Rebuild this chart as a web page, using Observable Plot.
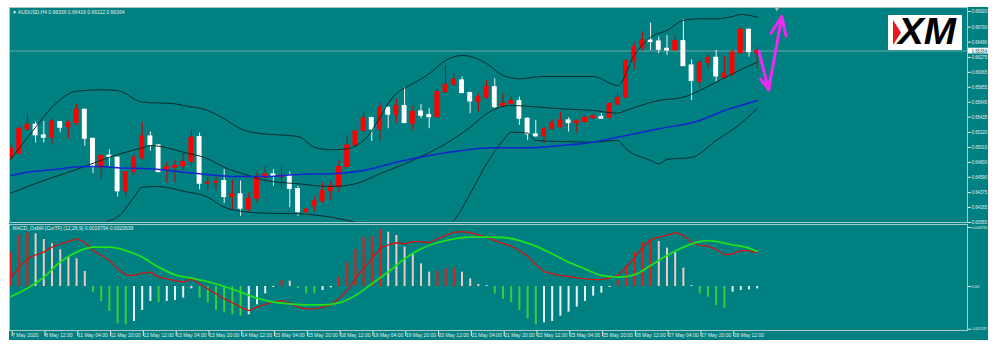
<!DOCTYPE html>
<html>
<head>
<meta charset="utf-8">
<script src="https://cdn.jsdelivr.net/npm/d3@7"></script>
<script src="https://cdn.jsdelivr.net/npm/@observablehq/plot@0.6"></script>
<style>
html,body{margin:0;padding:0;background:#fff}
body{width:1000px;height:351px;overflow:hidden;position:relative;font-family:"Liberation Sans",Arial,sans-serif}
#wrap{position:absolute;left:9px;top:7px;width:979px;height:333px;background:#008080}
#main,#macd{position:absolute;left:0}
#main{top:0}
#macd{top:216px}
.lbl{position:absolute;font-size:5px;line-height:5px;color:#e4eeee;white-space:nowrap}
#logo{position:absolute;left:879px;top:8px;overflow:visible}
</style>
</head>
<body>
<div id="wrap">
  <div id="main"></div>
  <div id="macd"></div>
  <div class="lbl" id="hdr" style="left:3px;top:3px"></div>
  <div class="lbl" id="mlbl" style="left:3.5px;top:219px"></div>
  <svg id="logo" width="74" height="35">
    <rect width="74" height="35" fill="#ffffff"/>
    <polygon points="5,5 13,17.5 5,30" fill="#e8191f"/>
    <text x="10" y="29" font-size="30" font-weight="900" font-style="italic" font-family="Liberation Sans, Arial, sans-serif" textLength="58" lengthAdjust="spacingAndGlyphs" transform="translate(0,-6) scale(1,1.2)" fill="#000">XM</text>
  </svg>
</div>
<script>
// ---------- DATA ----------
const symbol = "AUDUSD,H4";
const timeLabels = ["7 May 2020","8 May 12:00","11 May 04:00","11 May 20:00","12 May 12:00","13 May 04:00","13 May 20:00","14 May 12:00","15 May 04:00","15 May 20:00","18 May 12:00","19 May 04:00","19 May 20:00","20 May 12:00","21 May 04:00","21 May 20:00","22 May 12:00","25 May 04:00","25 May 20:00","26 May 12:00","27 May 04:00","27 May 20:00","28 May 12:00"];
const barsPerLabel = 4;

const open = [0.64874,0.64921,0.65263,0.65329,0.65179,0.65146,0.65366,0.65295,0.65352,0.65539,
0.65132,0.64725,0.64894,0.64865,0.64393,0.64664,0.64865,0.65165,0.65039,0.64688,
0.64725,0.64744,0.64805,0.65156,0.64500,0.64510,0.64538,0.64313,0.64351,0.64140,
0.64290,0.64585,0.64631,0.64594,0.64613,0.64426,0.64103,0.64182,0.64257,0.64397,
0.64454,0.64734,0.65039,0.65240,0.65422,0.65263,0.65567,0.65469,0.65591,0.65343,
0.65516,0.65464,0.65436,0.65787,0.65890,0.65951,0.65773,0.65647,0.65717,0.65857,
0.65595,0.65623,0.65661,0.65413,0.65193,0.65165,0.65272,0.65295,0.65390,0.65352,
0.65366,0.65422,0.65436,0.65422,0.65609,0.65708,0.66223,0.66410,0.66513,0.66499,
0.66396,0.66373,0.66504,0.66162,0.65928,0.66195,0.66270,0.65989,0.66045,0.66335,
0.66663,0.66336];
const high = [0.65037,0.65295,0.65483,0.65366,0.65376,0.65413,0.65370,0.65390,0.65614,0.65553,
0.65135,0.64898,0.64978,0.64875,0.64670,0.64908,0.65366,0.65226,0.65045,0.64805,
0.64828,0.64921,0.65249,0.65212,0.64585,0.64594,0.64697,0.64547,0.64538,0.64369,
0.64650,0.64734,0.64697,0.64734,0.64664,0.64463,0.64150,0.64313,0.64510,0.64524,
0.64828,0.65179,0.65249,0.65507,0.65436,0.65633,0.65577,0.65694,0.65848,0.65586,
0.65614,0.65553,0.65834,0.66162,0.66035,0.65998,0.65787,0.65764,0.65951,0.65974,
0.65764,0.65717,0.65717,0.65427,0.65390,0.65295,0.65399,0.65507,0.65427,0.65399,
0.65445,0.65483,0.65483,0.65647,0.65764,0.66241,0.66490,0.66630,0.66757,0.66560,
0.66583,0.66583,0.66803,0.66241,0.66241,0.66316,0.66373,0.66288,0.66373,0.66677,
0.66677,0.66419];
const low = [0.64827,0.64912,0.65226,0.65071,0.65071,0.65048,0.65216,0.65132,0.65319,0.65025,
0.64641,0.64571,0.64744,0.64313,0.64323,0.64617,0.64828,0.64959,0.64650,0.64510,
0.64510,0.64688,0.64744,0.64416,0.64397,0.64407,0.64220,0.64126,0.64042,0.64103,
0.64229,0.64524,0.64463,0.64430,0.64163,0.64042,0.64079,0.64103,0.64220,0.64266,
0.64369,0.64725,0.65006,0.65193,0.65095,0.65109,0.65272,0.65352,0.65343,0.65249,
0.65413,0.65272,0.65427,0.65750,0.65867,0.65764,0.65483,0.65507,0.65679,0.65553,
0.65577,0.65609,0.65319,0.65109,0.65156,0.65062,0.65249,0.65282,0.65226,0.65212,
0.65352,0.65399,0.65408,0.65390,0.65600,0.65694,0.66092,0.66363,0.66373,0.66326,
0.66302,0.66373,0.66148,0.65670,0.65848,0.66115,0.65928,0.65975,0.66007,0.66326,
0.66279,0.66112];
const close = [0.64990,0.65272,0.65329,0.65179,0.65146,0.65376,0.65287,0.65352,0.65539,0.65132,
0.64734,0.64889,0.64875,0.64393,0.64664,0.64865,0.65165,0.65039,0.64664,0.64734,
0.64748,0.64805,0.65146,0.64500,0.64514,0.64533,0.64313,0.64351,0.64149,0.64290,
0.64594,0.64631,0.64608,0.64613,0.64426,0.64103,0.64140,0.64252,0.64397,0.64463,
0.64734,0.65039,0.65235,0.65422,0.65263,0.65567,0.65469,0.65591,0.65352,0.65507,
0.65455,0.65436,0.65787,0.65890,0.65961,0.65773,0.65656,0.65717,0.65857,0.65577,
0.65623,0.65661,0.65413,0.65193,0.65165,0.65272,0.65352,0.65390,0.65352,0.65376,
0.65427,0.65445,0.65413,0.65623,0.65708,0.66223,0.66419,0.66513,0.66490,0.66382,
0.66373,0.66504,0.66152,0.65942,0.66195,0.66270,0.66007,0.66045,0.66340,0.66663,
0.66349,0.66364];

// Bollinger bands and moving average, read at sample bars
const upperBar = [0,3,5,8,11,13,16,20,21,24,26,28,30,35,37,39,41,43,47,49,51,53,55,58,60,62,65,71,74,76,78,80,82,84,86,88,89,91];
const upperVal = [0.64850,0.65294,0.65575,0.65800,0.65820,0.65810,0.65646,0.65623,0.65599,0.65529,0.65412,0.65272,0.65210,0.65164,0.65013,0.64977,0.64991,0.65108,0.65768,0.65904,0.66045,0.66232,0.66302,0.66189,0.66021,0.65974,0.66007,0.66007,0.65880,0.66302,0.66559,0.66653,0.66794,0.66817,0.66817,0.66850,0.66878,0.66840];
const middleBar = [0,3,7,9,12,16,17,19,21,24,26,29,31,35,39,42,45,49,53,56,58,61,63,67,71,74,75,79,82,84,86,88,91];
const middleVal = [0.64367,0.64503,0.64662,0.64742,0.64873,0.65005,0.65037,0.65005,0.64943,0.64850,0.64732,0.64616,0.64546,0.64499,0.64461,0.64499,0.64640,0.64827,0.65061,0.65294,0.65483,0.65599,0.65589,0.65553,0.65529,0.65491,0.65529,0.65670,0.65716,0.65810,0.65927,0.66045,0.66208];
const lowerBar = [0,6,12,13,15,16,18,21,24,26,29,31,35,39,44,49,53,54,56,58,60,61,63,64,67,71,74,75,78,79,80,83,86,89,91];
const lowerVal = [0.63870,0.63550,0.63984,0.64030,0.64311,0.64451,0.64461,0.64395,0.64311,0.64170,0.64100,0.64086,0.64078,0.64030,0.63900,0.63750,0.63890,0.63984,0.64359,0.64780,0.65108,0.65224,0.65210,0.65108,0.65093,0.65084,0.65108,0.64991,0.64827,0.64780,0.64841,0.64869,0.65108,0.65346,0.65557];
const maBar = [0,2,5,9,11,13,17,21,23,27,31,35,39,43,47,51,55,59,63,67,71,75,79,84,87,89,91];
const maVal = [0.64616,0.64662,0.64696,0.64742,0.64742,0.64724,0.64710,0.64662,0.64640,0.64602,0.64602,0.64630,0.64640,0.64686,0.64803,0.64897,0.64967,0.65005,0.65005,0.65037,0.65084,0.65178,0.65272,0.65389,0.65529,0.65599,0.65670];

const priceTicks = [0.66920,0.66700,0.66490,0.66275,0.66065,0.65855,0.65645,0.65435,0.65220,0.65010,0.64800,0.64590,0.64375,0.64165,0.63955];

// Forecast arrows (bar index, price) and chart-shift marker (bar index)
const arrowFrom = [[91.2,0.66364],[92.4,0.65820]];
const arrowTo   = [[92.4,0.65820],[94.0,0.66850]];
const shiftMarkBar = [93.4];

// MACD / OsMA panel
const macdParams = "(12,26,9)";
const histVal = [0.002025,0.003008,0.003165,0.003106,0.002772,0.002516,0.002163,0.001769,0.001632,0.000885,
-0.000334,-0.000885,-0.001475,-0.002202,-0.002261,-0.002064,-0.001416,-0.000885,-0.000963,-0.000885,
-0.000826,-0.000688,-0.000138,-0.000688,-0.000963,-0.001416,-0.001553,-0.001671,-0.00175,-0.001671,
-0.001081,-0.000433,-0.000059,0.000354,0.000315,-0.000138,-0.000433,-0.000433,-0.000236,-0.000079,
0.00055,0.001396,0.002182,0.0029,0.00294,0.003362,0.003205,0.003008,0.00232,0.001868,
0.001337,0.000845,0.000904,0.001042,0.001101,0.000845,0.000452,0.000118,0.000059,-0.000433,
-0.000767,-0.000963,-0.001416,-0.001907,-0.002261,-0.002143,-0.002064,-0.00175,-0.001514,-0.001219,
-0.000885,-0.00057,-0.000393,-0.000059,0.000354,0.001239,0.002025,0.002575,0.002772,0.002654,
0.002261,0.001986,0.001081,0.000059,-0.000433,-0.000629,-0.001121,-0.001278,-0.000334,-0.000236,
-0.000197,-0.000138];
const histCode = ("RRRPPPPPPP"+"GGGGGWWWGW"+"WWWGGGGGGW"+"WWWRPGGGWW"+"RRRRRRPPPP"+"PPRRRPPPPG"+"GGGGGWWWWW"+"WWWWRRRRRP"+"PPPPGGGGWW"+"WW").split("");
const macdVal = [0.00055,0.00114,0.00163,0.00187,0.00203,0.00232,0.00252,0.00265,0.00281,0.00261,
0.00212,0.00183,0.00153,0.00104,0.00069,0.00065,0.00079,0.00085,0.00055,0.00045,
0.00035,0.00026,0.00045,0.00016,-0.00014,-0.00043,-0.00073,-0.00096,-0.00122,-0.00142,
-0.00122,-0.00106,-0.00092,-0.00083,-0.00096,-0.00122,-0.00132,-0.00132,-0.00122,-0.00108,
-0.00073,-0.00024,0.00045,0.00108,0.00163,0.00222,0.00246,0.00258,0.00252,0.00265,
0.00265,0.00258,0.00281,0.00301,0.00320,0.00324,0.00317,0.00305,0.00291,0.00271,
0.00254,0.00238,0.00212,0.00179,0.00128,0.00088,0.00075,0.00065,0.00059,0.00051,
0.00045,0.00041,0.00041,0.00049,0.00065,0.00114,0.00167,0.00232,0.00277,0.00291,
0.00301,0.00317,0.00301,0.00261,0.00242,0.00238,0.00218,0.00187,0.00193,0.00212,
0.00212,0.0019794];
const sigBar = [0,2,4,6,8,9,10,12,14,16,18,20,22,24,26,28,30,32,34,36,38,40,42,44,46,48,50,52,54,56,58,60,62,64,66,68,70,72,74,76,78,80,82,84,85,86,88,90,91];
const sigVal = [-0.00059,-0.0001,0.00055,0.00144,0.00203,0.00222,0.00232,0.00232,0.00212,0.00173,0.00114,0.00069,0.00049,0.00029,0,-0.00033,-0.00069,-0.00092,-0.00102,-0.00108,-0.00108,-0.00096,-0.00053,0.00016,0.00085,0.00163,0.00222,0.00258,0.00281,0.00291,0.00291,0.00289,0.00271,0.00238,0.00193,0.00144,0.00104,0.00065,0.00055,0.00069,0.00124,0.00183,0.00232,0.00265,0.00271,0.00265,0.00246,0.00226,0.0020639];
const macdTicks = [0.0034794, 0, -0.0025197];

// ---------- STYLE ----------
const TXT = "#e2eded";
const LINE = "#a6caca";
const histColors = {R:"#f01414", P:"#efc9c9", G:"#3ccb3c", W:"#e4f4f4"};
const xDomain = [-0.183, 116.65];
const baseStyle = {background:"transparent", fontFamily:"Liberation Sans, Arial, sans-serif", fontSize:"5px", color:TXT, overflow:"visible"};

const candles = open.map((o,i)=>({i, o, h:high[i], l:low[i], c:close[i]}));
const pairs = (b,v)=>b.map((x,k)=>({i:x, v:v[k]}));
const last = candles[candles.length-1];
const arrows = arrowFrom.map((f,k)=>({x1:f[0], y1:f[1], x2:arrowTo[k][0], y2:arrowTo[k][1]}));

document.getElementById("hdr").textContent = "\u25BC " + symbol + " " + [last.o,last.h,last.l,last.c].map(d=>d.toFixed(5)).join(" ");
document.getElementById("mlbl").textContent = "MACD_OsMA [CurTF] " + macdParams + " " + macdVal[macdVal.length-1].toFixed(7) + " " + sigVal[sigVal.length-1].toFixed(7);

const mainPlot = Plot.plot({
  width:979, height:216, marginLeft:0, marginRight:21, marginTop:0, marginBottom:1,
  style: baseStyle,
  x:{domain:xDomain, axis:null},
  y:{domain:[0.63955,0.66976]},
  color:{type:"identity"},
  marks:[
    Plot.ruleY([last.c], {stroke:"#86b6b6", strokeWidth:0.8}),
    Plot.ruleX(candles, {x:"i", y1:"l", y2:"h", stroke:d=>d.c>=d.o?"#c80000":"#f2f2f2", strokeWidth:1, clip:true}),
    Plot.rect(candles, {x1:d=>d.i-0.3, x2:d=>d.i+0.3, y1:"o", y2:"c", fill:d=>d.c>=d.o?"#ff0000":"#ffffff", insetTop:-0.5, insetBottom:-0.5, clip:true}),
    Plot.line(pairs(upperBar,upperVal), {x:"i", y:"v", stroke:"#0b2c2c", strokeWidth:1, curve:"monotone-x", clip:true}),
    Plot.line(pairs(middleBar,middleVal), {x:"i", y:"v", stroke:"#0b2c2c", strokeWidth:1, curve:"monotone-x", clip:true}),
    Plot.line(pairs(lowerBar,lowerVal), {x:"i", y:"v", stroke:"#0b2c2c", strokeWidth:1, curve:"monotone-x", clip:true}),
    Plot.line(pairs(maBar,maVal), {x:"i", y:"v", stroke:"#1424d2", strokeWidth:1.5, curve:"monotone-x", clip:true}),
    Plot.arrow(arrows, {x1:"x1", y1:"y1", x2:"x2", y2:"y2", stroke:"#f028f0", strokeWidth:3, headLength:10, headAngle:45}),
    Plot.dot(shiftMarkBar, {x:d=>d, frameAnchor:"top", dy:1.5, symbol:"triangle", r:1.6, rotate:180, fill:"#b4b4b4", stroke:"none"}),
    Plot.axisY({anchor:"right", ticks:priceTicks, tickFormat:d=>d.toFixed(5), tickSize:3, tickPadding:1.2, label:null, color:TXT, fontSize:4.6}),
    Plot.rect([last.c], {x1:xDomain[1], x2:xDomain[1]+2.55, y1:d=>d-0.0004, y2:d=>d+0.0004, fill:"#ffffff"}),
    Plot.text([last.c], {y:d=>d, frameAnchor:"right", dx:4.2, textAnchor:"start", text:d=>d.toFixed(5), fill:"#005a5a", fontSize:4.6}),
    Plot.frame({stroke:LINE})
  ]
});
document.getElementById("main").appendChild(mainPlot);

const hist = histVal.map((v,i)=>({i, v, k:histCode[i]}));
const macdPlot = Plot.plot({
  width:979, height:117, marginLeft:0, marginRight:21, marginTop:1, marginBottom:10,
  style: baseStyle,
  x:{domain:xDomain},
  y:{domain:[-0.0025947,0.003656]},
  color:{type:"identity"},
  marks:[
    Plot.ruleX(hist, {x:"i", y1:0, y2:"v", stroke:d=>histColors[d.k], strokeWidth:2}),
    Plot.line(macdVal.map((v,i)=>({i,v})), {x:"i", y:"v", stroke:"#d41414", strokeWidth:1.3}),
    Plot.line(pairs(sigBar,sigVal), {x:"i", y:"v", stroke:"#1ee01e", strokeWidth:1.8, curve:"monotone-x"}),
    Plot.axisY({anchor:"right", ticks:macdTicks, tickFormat:d=>d===0?"0.00":d.toFixed(7), tickSize:3, tickPadding:1, label:null, color:TXT, fontSize:3.9}),
    Plot.axisX({ticks:timeLabels.map((t,k)=>k*barsPerLabel), tickFormat:d=>timeLabels[d/barsPerLabel], tickSize:6, tickPadding:-3.5, textAnchor:"start", dx:1.2, label:null, color:TXT, fontSize:5}),
    Plot.frame({stroke:LINE})
  ]
});
document.getElementById("macd").appendChild(macdPlot);

// keep the right-hand price labels inside the teal panel: condense any that would overflow
function fitRightLabels(svg){
  const limit = 978;
  svg.querySelectorAll("text").forEach(t=>{
    const b = t.getBBox();
    const ctm = t.getCTM();
    const left = b.x + (ctm ? ctm.e : 0);
    if (left > 950 && left + b.width > limit) {
      const avail = limit - left;
      if (avail > 4) {
        t.setAttribute("textLength", avail.toFixed(2));
        t.setAttribute("lengthAdjust", "spacingAndGlyphs");
      }
    }
  });
}
fitRightLabels(mainPlot);
fitRightLabels(macdPlot);
</script>
</body>
</html>
